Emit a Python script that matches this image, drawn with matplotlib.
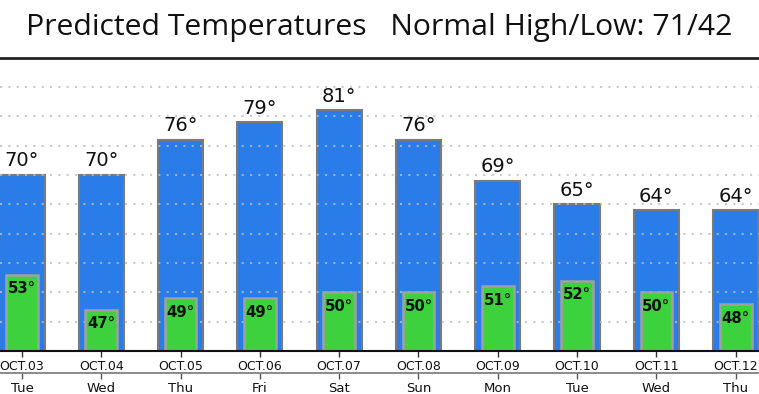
import numpy as np
import matplotlib
matplotlib.use("Agg")
import matplotlib.pyplot as plt
from matplotlib.lines import Line2D

# data
dates = ['OCT.03', 'OCT.04', 'OCT.05', 'OCT.06', 'OCT.07',
         'OCT.08', 'OCT.09', 'OCT.10', 'OCT.11', 'OCT.12']
days = ['Tue', 'Wed', 'Thu', 'Fri', 'Sat', 'Sun', 'Mon', 'Tue', 'Wed', 'Thu']
highs = [70, 70, 76, 79, 81, 76, 69, 65, 64, 64]
lows = [53, 47, 49, 49, 50, 50, 51, 52, 50, 48]
title = 'Predicted Temperatures   Normal High/Low: 71/42'

W, H = 759, 394
fig = plt.figure(figsize=(W / 100, H / 100), dpi=100)

# axes: baseline at y=351px, top at ~57px
bottom = 1 - 351 / H
top = 1 - 57.5 / H
ax = fig.add_axes([0, bottom, 1, top - bottom])

x = np.arange(len(dates))
ax.bar(x, highs, width=0.57, bottom=0, color='#2a7de8', edgecolor='#7a7a7a',
       linewidth=1.5, zorder=2)
ax.bar(x, lows, width=0.40, bottom=0, color='#3dd13d', edgecolor='#a0a0a0',
       linewidth=1.8, zorder=3)

for xi, h in zip(x, highs):
    ax.annotate(f'{h}°', (xi, h), xytext=(0, 14), textcoords='offset pixels',
                ha='center', va='center', fontsize=14, color='#111111',
                family='DejaVu Sans', zorder=5)
for xi, l in zip(x, lows):
    ax.annotate(f'{l}°', (xi, l), xytext=(0, -14), textcoords='offset pixels',
                ha='center', va='center', fontsize=10.7, fontweight='bold',
                color='#111111', family='DejaVu Sans', zorder=5)

ax.set_xlim(-0.277, -0.277 + W / 79.3)
ax.set_ylim(40, 90)

# dotted grid (shows faintly over the blue bars, not the green ones)
ax.set_yticks(np.arange(45, 90, 5))
ax.yaxis.grid(True, color='#bdbdbd', alpha=0.8, linestyle=(0, (1, 3)),
              linewidth=1.5)
ax.yaxis.set_zorder(2.5)
ax.tick_params(axis='y', left=False, labelleft=False)

for s in ['top', 'left', 'right']:
    ax.spines[s].set_visible(False)
ax.spines['bottom'].set_color('#111111')
ax.spines['bottom'].set_linewidth(1.5)
ax.spines['bottom'].set_zorder(6)

ax.set_xticks(x)
ax.set_xticklabels(dates, fontsize=9, family='DejaVu Sans', color='#111111')
ax.tick_params(axis='x', direction='out', length=4, width=1, color='#333333',
               pad=2.5)

# second row with day names
axh = (351 - 57.5)
sec = ax.secondary_xaxis((351 - 373) / axh)
sec.set_xticks(x)
sec.set_xticklabels(days, fontsize=9.5, family='DejaVu Sans', color='#111111')
sec.tick_params(axis='x', direction='out', length=4, width=1, color='#555555',
                pad=2.5)
sec.spines['bottom'].set_color('#777777')
sec.spines['bottom'].set_linewidth(1.2)

# title and line below it
fig.text(0.5, 1 - 28 / H, title, ha='center', va='center', fontsize=21.7,
         family='Open Sans', color='#111111')
fig.add_artist(Line2D([0, 1], [1 - 58 / H, 1 - 58 / H], color='#222222',
                      linewidth=2, transform=fig.transFigure))

fig.savefig('out.png', dpi=100)
